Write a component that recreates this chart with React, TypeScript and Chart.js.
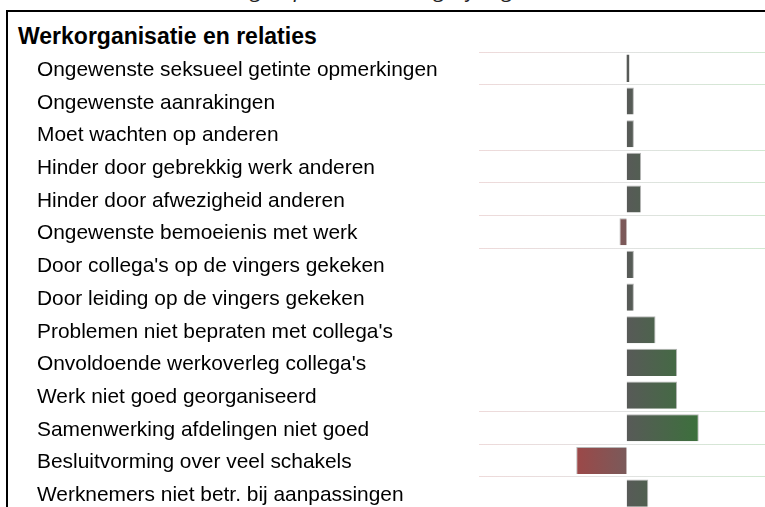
import React, { useEffect, useRef } from "react";
import { Chart, registerables } from "chart.js";

Chart.register(...registerables);

const TOP_TITLE = "Regels per item in vergelijking";
const SECTION_TITLE = "Werkorganisatie en relaties";

const categories = [
  "Ongewenste seksueel getinte opmerkingen",
  "Ongewenste aanrakingen",
  "Moet wachten op anderen",
  "Hinder door gebrekkig werk anderen",
  "Hinder door afwezigheid anderen",
  "Ongewenste bemoeienis met werk",
  "Door collega's op de vingers gekeken",
  "Door leiding op de vingers gekeken",
  "Problemen niet bepraten met collega's",
  "Onvoldoende werkoverleg collega's",
  "Werk niet goed georganiseerd",
  "Samenwerking afdelingen niet goed",
  "Besluitvorming over veel schakels",
  "Werknemers niet betr. bij aanpassingen",
];

const values = [0.35, 1, 1, 2, 2, -1, 1, 1, 4, 7, 7, 10, -7, 3];

// rows (0-based) that have a separator line on their top edge
const separatorRows = [0, 1, 3, 4, 5, 6, 11, 12, 13];

const X_MIN = -20.5;
const X_MAX = 19.2;

const FONT = '"Liberation Sans", Arial, sans-serif';

export default function App() {
  const ref = useRef<HTMLCanvasElement | null>(null);

  useEffect(() => {
    const canvas = ref.current;
    if (!canvas) return;

    const barColor = (ctx: any) => {
      const chart = ctx.chart;
      const area = chart.chartArea;
      const v = ctx.raw as number;
      if (!area || !chart.scales.x) return v < 0 ? "#7a5858" : "#575a57";
      const xs = chart.scales.x;
      const x0 = xs.getPixelForValue(0);
      if (v >= 0) {
        const x1 = xs.getPixelForValue(10);
        const g = chart.ctx.createLinearGradient(x0, 0, x1, 0);
        g.addColorStop(0, "rgb(88,90,88)");
        g.addColorStop(1, "rgb(60,112,60)");
        return g;
      }
      const x1 = xs.getPixelForValue(-7);
      const g = chart.ctx.createLinearGradient(x0, 0, x1, 0);
      g.addColorStop(0, "rgb(122,90,90)");
      g.addColorStop(1, "rgb(156,72,72)");
      return g;
    };

    const barBorder = (ctx: any) => {
      const v = ctx.raw as number;
      if (Math.abs(v) < 0.5) return 0;
      return v >= 0
        ? { top: 1, right: 1, left: 0, bottom: 0 }
        : { top: 1, left: 1, right: 0, bottom: 0 };
    };

    const gridColor = (ctx: any) => {
      const idx = ctx.index;
      if (typeof idx !== "number" || !separatorRows.includes(idx)) return "rgba(0,0,0,0)";
      const chart = ctx.chart;
      const area = chart.chartArea;
      if (!area) return "rgb(226,226,226)";
      const g = chart.ctx.createLinearGradient(area.left, 0, area.right, 0);
      g.addColorStop(0, "rgb(238,218,218)");
      g.addColorStop(0.5, "rgb(226,226,226)");
      g.addColorStop(1, "rgb(208,232,208)");
      return g;
    };

    const chart = new Chart(canvas, {
      type: "bar",
      data: {
        labels: categories,
        datasets: [
          {
            data: values,
            backgroundColor: barColor,
            borderColor: "rgba(175,175,175,0.9)",
            borderWidth: barBorder,
            borderSkipped: false,
            barPercentage: 0.83,
            categoryPercentage: 1,
          },
        ],
      },
      options: {
        indexAxis: "y",
        responsive: false,
        animation: false,
        devicePixelRatio: 1,
        layout: { padding: { left: 29, top: 40, right: 0, bottom: 8 } },
        plugins: {
          legend: { display: false },
          tooltip: { enabled: false },
          title: { display: false },
        },
        scales: {
          x: {
            display: false,
            min: X_MIN,
            max: X_MAX,
            grid: { display: false },
          },
          y: {
            type: "category",
            offset: true,
            grid: {
              offset: true,
              drawTicks: false,
              color: gridColor,
              lineWidth: 1,
            },
            border: { display: false },
            ticks: {
              crossAlign: "far",
              autoSkip: false,
              padding: 0,
              labelOffset: 2,
              color: "#000",
              font: { family: FONT, size: 20.9 },
            },
            afterFit: (s: any) => {
              s.width = 442;
            },
          },
        },
      },
    });

    return () => chart.destroy();
  }, []);

  return (
    <div
      style={{
        position: "fixed",
        left: 0,
        top: 0,
        width: 765,
        height: 507,
        overflow: "hidden",
        background: "#fff",
      }}
    >
      <div
        style={{
          position: "absolute",
          left: -12,
          top: -23,
          width: 765,
          textAlign: "center",
          fontFamily: '"Open Sans", sans-serif',
          fontStyle: "italic",
          fontSize: 22,
          lineHeight: "22px",
          color: "#222",
          whiteSpace: "nowrap",
        }}
      >
        {TOP_TITLE}
      </div>
      <div
        style={{
          position: "absolute",
          left: 6,
          top: 10,
          width: 800,
          height: 600,
          borderLeft: "2px solid #000",
          borderTop: "2px solid #000",
        }}
      />
      <div
        style={{
          position: "absolute",
          left: 18,
          top: 25,
          fontFamily: FONT,
          fontWeight: "bold",
          fontSize: 23,
          lineHeight: "23px",
          color: "#000",
          whiteSpace: "nowrap",
        }}
      >
        {SECTION_TITLE}
      </div>
      <canvas
        ref={ref}
        width={757}
        height={510}
        style={{ position: "absolute", left: 8, top: 12, width: 757, height: 510 }}
      />
    </div>
  );
}
